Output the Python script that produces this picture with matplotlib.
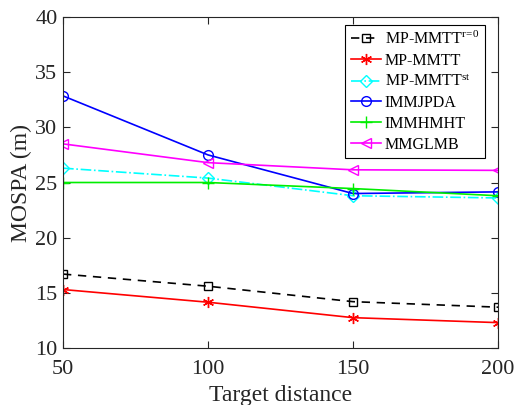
import matplotlib as mpl

mpl.use('Agg')
import matplotlib.pyplot as plt

plt.rcParams['font.family'] = 'Liberation Serif'
plt.rcParams['mathtext.fontset'] = 'custom'
plt.rcParams['mathtext.rm'] = 'Liberation Serif'
plt.rcParams['mathtext.it'] = 'Liberation Serif'

# data
distance = [50, 100, 150, 200]
mp_r0 = [16.7, 15.6, 14.2, 13.7]
mp_mmtt = [15.3, 14.15, 12.75, 12.3]
mp_st = [26.3, 25.4, 23.8, 23.6]
immjpda = [32.85, 27.5, 24.0, 24.15]
immhmht = [25.0, 25.0, 24.45, 23.8]
mmglmb = [28.5, 26.8, 26.15, 26.1]

fig = plt.figure(figsize=(5.16, 4.05), dpi=100)
ax = fig.add_axes([63 / 516, 1 - 348 / 405, 435 / 516, 331 / 405])

lw = 1.2
ax.plot(distance, mp_r0, color='black', ls=(0, (5, 4)), marker='s', mfc='none',
        ms=6, lw=lw, label=r'MP-MMTT$^{r\!=\!0}$')
ax.plot(distance, mp_mmtt, color='red', ls='-', marker=(6, 2, 0), ms=8,
        lw=lw, label='MP-MMTT')
ax.plot(distance, mp_st, color='cyan', ls='-.', marker='D', mfc='none',
        ms=6, lw=lw, label='MP-MMTT$^{st}$')
ax.plot(distance, immjpda, color='blue', ls='-', marker='o', mfc='none',
        ms=7, lw=lw, label='IMMJPDA')
ax.plot(distance, immhmht, color='#00ee00', ls='-', marker='+', ms=9,
        lw=lw, label='IMMHMHT')
ax.plot(distance, mmglmb, color='magenta', ls='-', marker='<', mfc='none',
        ms=7, lw=lw, label='MMGLMB')

ax.set_xlim(50, 200)
ax.set_ylim(10, 40)
ax.set_xticks([50, 100, 150, 200])
ax.set_yticks([10, 15, 20, 25, 30, 35, 40])
for s in ax.spines.values():
    s.set_color('#262626')
ax.tick_params(direction='in', top=True, right=True, labelsize=16, pad=4,
               colors='#262626', length=5)
ax.tick_params(axis='x', pad=9)
ax.set_xlabel('Target distance', fontsize=17, labelpad=4, color='#262626')
ax.set_ylabel('MOSPA (m)', fontsize=17, labelpad=2, color='#262626')

leg = ax.legend(loc='upper right', fontsize=11.5, handlelength=1.9,
                handletextpad=0.2, labelspacing=0.3, borderpad=0.35,
                borderaxespad=0.3, fancybox=False, edgecolor='black',
                framealpha=1, bbox_to_anchor=(0.98, 0.99))
leg.get_frame().set_linewidth(0.8)

plt.savefig('out.png', dpi=100)
